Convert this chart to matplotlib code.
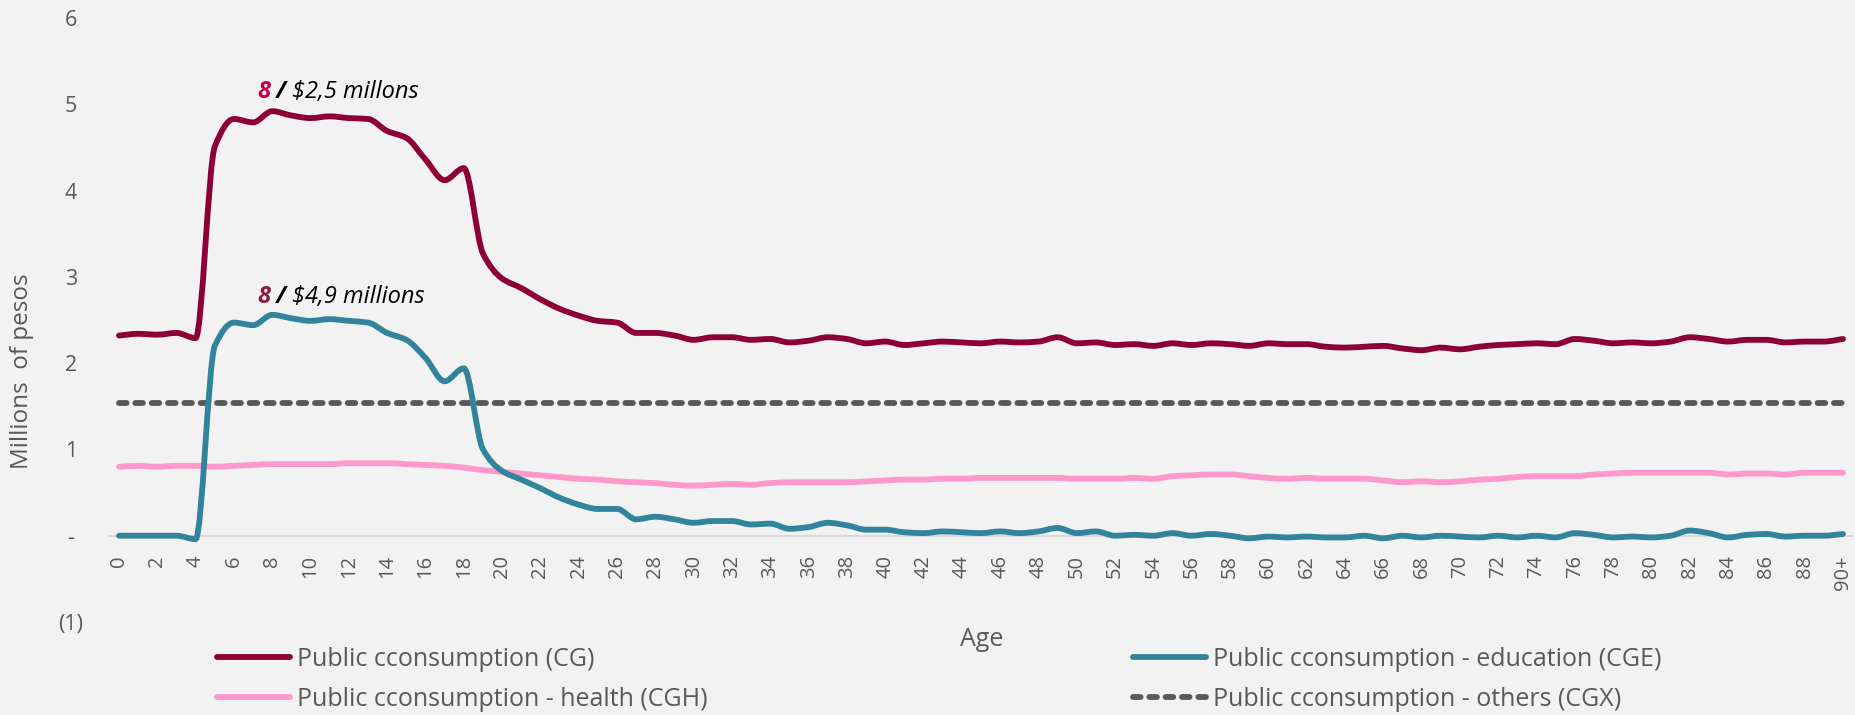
import matplotlib
matplotlib.use("Agg")
import matplotlib.pyplot as plt
from matplotlib.transforms import offset_copy
from matplotlib.path import Path
from matplotlib.patches import PathPatch
from matplotlib.lines import Line2D

ages = list(range(91))
age_labels = [str(a) if a % 2 == 0 else "" for a in range(90)] + ["90+"]

cg = [2.32, 2.34, 2.33, 2.35, 2.29, 4.51, 4.83, 4.79, 4.92, 4.87,
      4.84, 4.86, 4.84, 4.83, 4.69, 4.61, 4.36, 4.12, 4.26, 3.27,
      2.98, 2.87, 2.74, 2.63, 2.55, 2.49, 2.47, 2.35, 2.35, 2.32,
      2.27, 2.30, 2.30, 2.27, 2.28, 2.24, 2.26, 2.30, 2.28, 2.23,
      2.25, 2.21, 2.23, 2.25, 2.24, 2.23, 2.25, 2.24, 2.25, 2.30,
      2.23, 2.24, 2.21, 2.22, 2.20, 2.23, 2.21, 2.23, 2.22, 2.20,
      2.23, 2.22, 2.22, 2.19, 2.18, 2.19, 2.20, 2.17, 2.15, 2.18,
      2.16, 2.19, 2.21, 2.22, 2.23, 2.22, 2.28, 2.26, 2.23, 2.24,
      2.23, 2.25, 2.30, 2.28, 2.25, 2.27, 2.27, 2.24, 2.25, 2.25,
      2.28]

cge = [0.0, 0.0, 0.0, 0.0, -0.04, 2.20, 2.47, 2.44, 2.56, 2.52,
       2.49, 2.51, 2.49, 2.47, 2.35, 2.27, 2.06, 1.79, 1.94, 1.00,
       0.75, 0.65, 0.55, 0.44, 0.36, 0.31, 0.31, 0.19, 0.22, 0.19,
       0.15, 0.17, 0.17, 0.13, 0.14, 0.08, 0.10, 0.15, 0.12, 0.07,
       0.07, 0.04, 0.03, 0.05, 0.04, 0.03, 0.05, 0.03, 0.05, 0.09,
       0.03, 0.05, 0.00, 0.01, 0.00, 0.03, 0.00, 0.02, 0.00, -0.03,
       -0.01, -0.02, -0.01, -0.02, -0.02, 0.00, -0.03, 0.00, -0.02, 0.00,
       -0.01, -0.02, 0.00, -0.02, 0.00, -0.02, 0.03, 0.01, -0.02, -0.01,
       -0.02, 0.00, 0.06, 0.03, -0.02, 0.01, 0.02, -0.01, 0.00, 0.00,
       0.02]

cgh = [0.80, 0.81, 0.80, 0.81, 0.81, 0.80, 0.81, 0.82, 0.83, 0.83,
       0.83, 0.83, 0.84, 0.84, 0.84, 0.83, 0.82, 0.81, 0.79, 0.76,
       0.74, 0.72, 0.70, 0.68, 0.66, 0.65, 0.63, 0.62, 0.61, 0.59,
       0.58, 0.59, 0.60, 0.59, 0.61, 0.62, 0.62, 0.62, 0.62, 0.63,
       0.64, 0.65, 0.65, 0.66, 0.66, 0.67, 0.67, 0.67, 0.67, 0.67,
       0.66, 0.66, 0.66, 0.67, 0.66, 0.69, 0.70, 0.71, 0.71, 0.69,
       0.67, 0.66, 0.67, 0.66, 0.66, 0.66, 0.64, 0.62, 0.63, 0.62,
       0.63, 0.65, 0.66, 0.68, 0.69, 0.69, 0.69, 0.71, 0.72, 0.73,
       0.73, 0.73, 0.73, 0.73, 0.71, 0.72, 0.72, 0.71, 0.73, 0.73,
       0.73]

cgx = [1.54] * 91

y_ticks = [-1, 0, 1, 2, 3, 4, 5, 6]
y_labels = ["(1)", "-", "1", "2", "3", "4", "5", "6"]

labels = ["Public cconsumption (CG)",
          "Public cconsumption - education (CGE)",
          "Public cconsumption - health (CGH)",
          "Public cconsumption - others (CGX)"]

BG = "#F2F2F2"
TXT = "#595959"
C_CG = "#8C0036"
C_CGE = "#31849B"
C_CGH = "#FF99CC"
C_CGX = "#595959"

FONT = ["Open Sans", "DejaVu Sans"]
plt.rcParams["font.family"] = FONT

W, H = 1855, 715
fig = plt.figure(figsize=(W / 100, H / 100), dpi=100, facecolor=BG)
ax = fig.add_axes([110 / W, (H - 622) / H, (1852 - 110) / W, (622 - 18) / H])
ax.set_facecolor(BG)

lw = 4.2


def smooth_line(xs, ys, color, z):
    """Smoothed line drawn as monotone cubic Bezier segments through every data point."""
    n = len(xs)
    d = [ys[i + 1] - ys[i] for i in range(n - 1)]
    m = [0.0] * n
    m[0], m[-1] = d[0], d[-1]
    for i in range(1, n - 1):
        if d[i - 1] * d[i] <= 0:
            m[i] = 0.0
        else:
            m[i] = 2.0 / (1.0 / d[i - 1] + 1.0 / d[i])
    verts = [(xs[0], ys[0])]
    codes = [Path.MOVETO]
    for i in range(n - 1):
        h = xs[i + 1] - xs[i]
        c1 = (xs[i] + h / 3.0, ys[i] + m[i] * h / 3.0)
        c2 = (xs[i + 1] - h / 3.0, ys[i + 1] - m[i + 1] * h / 3.0)
        verts += [c1, c2, (xs[i + 1], ys[i + 1])]
        codes += [Path.CURVE4] * 3
    patch = PathPatch(Path(verts, codes), facecolor="none", edgecolor=color, lw=lw,
                      capstyle="round", joinstyle="round", zorder=z)
    ax.add_patch(patch)
    return Line2D([], [], color=color, lw=lw, solid_capstyle="round")


h_cgh = smooth_line(ages, cgh, C_CGH, 3)
h_cge = smooth_line(ages, cge, C_CGE, 4)
h_cg = smooth_line(ages, cg, C_CG, 4)
l_cgx, = ax.plot(ages, cgx, color=C_CGX, lw=lw, dashes=(1.3, 1.5), dash_capstyle="round", zorder=3)

ax.set_xlim(-0.47, 90.47)
ax.set_ylim(-1, 6)

for s in ["top", "right", "left"]:
    ax.spines[s].set_visible(False)
ax.spines["bottom"].set_position(("data", 0))
ax.spines["bottom"].set_color("#D9D9D9")
ax.spines["bottom"].set_linewidth(1.5)
ax.spines["bottom"].set_zorder(2)

ax.set_xticks(ages)
ax.set_xticklabels(age_labels, rotation=90, fontsize=14.5, color=TXT)
ax.tick_params(axis="x", length=0, pad=14)
ax.set_yticks(y_ticks)
ax.set_yticklabels(y_labels, fontsize=15.5, color=TXT)
ax.tick_params(axis="y", length=0, pad=28)
for t in ax.get_yticklabels():
    t.set_horizontalalignment("center")

fig.text(22 / W, 1 - 371 / H, "Millions  of pesos", rotation=90, ha="center", va="center",
         fontsize=17.5, color=TXT)
fig.text(982 / W, 1 - 639 / H, "Age", ha="center", va="center", fontsize=18, color=TXT)

leg_kw = dict(frameon=False, fontsize=18, labelcolor=TXT, handlelength=2.9,
              handletextpad=0.3, labelspacing=0.6, borderpad=0, borderaxespad=0)
leg1 = fig.legend([h_cg, h_cgh], [labels[0], labels[2]], loc="upper left",
                  bbox_to_anchor=(217 / W, 1 - 647 / H), **leg_kw)
leg2 = fig.legend([h_cge, l_cgx], [labels[1], labels[3]], loc="upper left",
                  bbox_to_anchor=(1133 / W, 1 - 647 / H), **leg_kw)


def rich_text(x, y, parts):
    fig.canvas.draw()
    renderer = fig.canvas.get_renderer()
    trans = ax.transData
    dx = 0
    for s, kw in parts:
        t = ax.text(x, y, s, transform=offset_copy(trans, fig=fig, x=dx, y=0, units="dots"),
                    ha="left", va="center", fontsize=17, style="italic", **kw)
        bb = t.get_window_extent(renderer=renderer)
        dx += bb.width


rich_text(7.2, 5.14, [("8", dict(color="#C2004F", fontweight="bold")),
                      (" / ", dict(color="black", fontweight="bold")),
                      ("$2,5 millons", dict(color="black"))])
rich_text(7.2, 2.77, [("8", dict(color="#8C1A40", fontweight="bold")),
                      (" / ", dict(color="black", fontweight="bold")),
                      ("$4,9 millions", dict(color="black"))])

fig.savefig("out.png", dpi=100, facecolor=BG)
